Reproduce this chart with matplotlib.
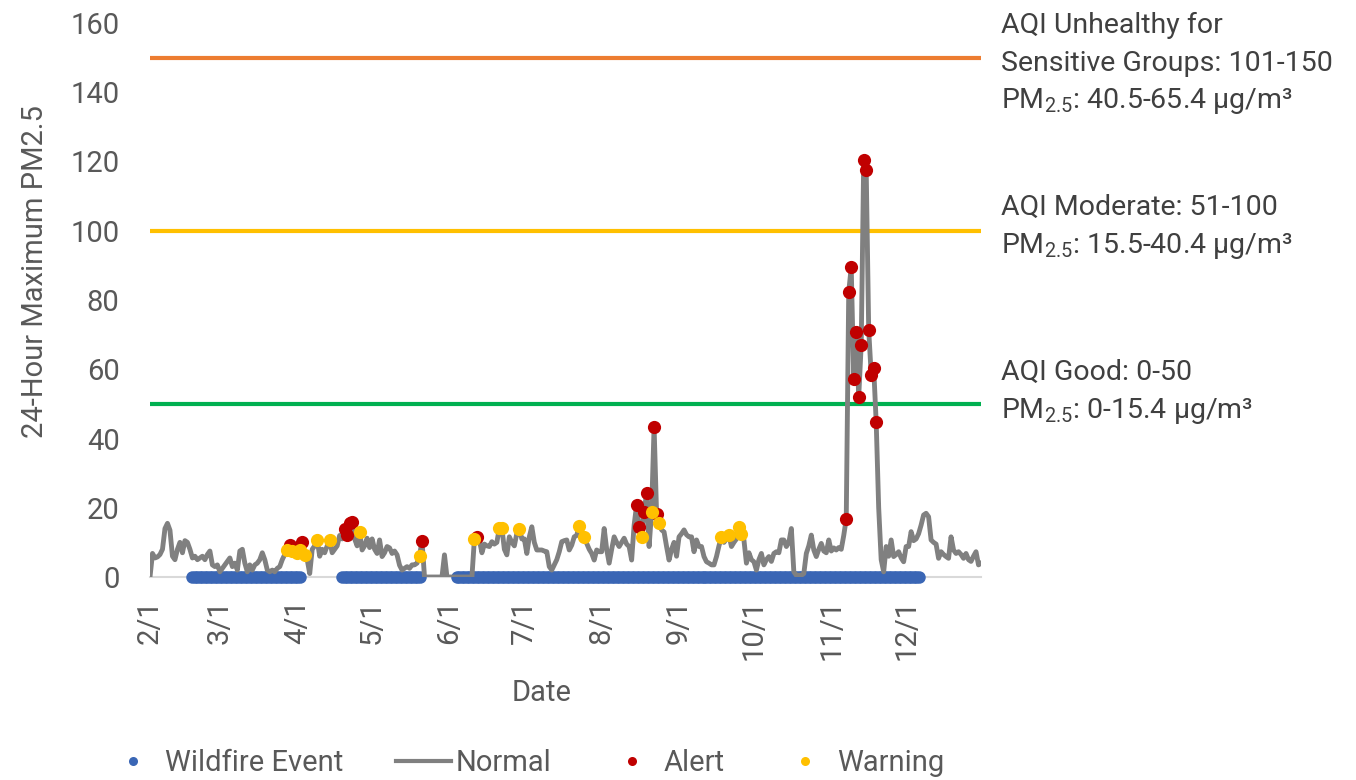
import numpy as np
import pandas as pd
import matplotlib as mpl
mpl.use("Agg")

import matplotlib.pyplot as plt
from matplotlib.lines import Line2D

mpl.rcParams.update({'font.family': ['Roboto', 'DejaVu Sans'],
                     'font.size': 21,
                     'text.color': '#595959',
                     'mathtext.fontset': 'custom',
                     'mathtext.rm': 'Roboto',
                     'mathtext.it': 'Roboto:italic',
                     'mathtext.bf': 'Roboto:bold'})

# daily 24-hour max PM2.5, one list per month (2/1 .. 12/31)
feb = [0, 6.8, 5.5, 5.8, 6.5, 8, 14, 15.5, 13.5, 6, 5, 8, 10, 7, 10.5, 10, 8, 5.5, 6, 5,
       5.5, 6, 5, 6.5, 7.5, 3.5, 3, 3.5]
mar = [1.5, 2.5, 3.5, 4.5, 5.5, 3, 4, 2, 7.5, 8, 4, 1.5, 3.5, 2, 3.5, 4, 5, 7, 5, 2,
       1.5, 2, 1.5, 2.5, 3, 5, 6.5, 7.8, 9.2, 7.5, 8]
apr = [6.9, 7.8, 10.2, 6.4, 5, 1, 8, 9, 10.7, 6, 8, 7, 9, 10.7, 7, 8, 9, 12, 11, 14,
       12, 15.5, 16, 11, 9, 13, 7.8, 9, 11.2, 8.5]
may = [11, 8, 6.8, 10.7, 5.9, 7, 8.8, 8.4, 6.8, 7.5, 6.4, 3.4, 2, 2.5, 3, 2.5, 3.5, 3.5, 4, 6.1,
       10.4, 0, 0, 0, 0, 0, 0, 0, 0, 6.4, 0]
jun = [0, 0, 0, 0, 0, 0, 0, 0, 0, 0, 11, 11.6, 10.7, 7, 9.5, 9, 8.8, 10.2, 9.5, 10,
       14.2, 14.2, 8, 6.4, 11.6, 10, 9, 12.6, 13.9, 11]
jul = [11, 6.8, 11.6, 14.5, 10, 7.8, 7.8, 7.8, 7.5, 7.3, 3, 2, 3.5, 5, 7.3, 10.2, 10.5, 10.7, 7.8, 9.2,
       11.6, 12, 14.8, 13.2, 11.6, 9.7, 8, 6.8, 4.9, 7.8, 7.3]
aug = [7.3, 14, 8, 4, 8, 11.6, 10, 8.8, 10, 11.2, 9.5, 8.8, 4.9, 15, 20.8, 14.5, 11.6, 18.9, 24.2, 8.8,
       18.9, 43.4, 18.2, 15.5, 13.6, 13, 8.8, 4.9, 8, 10, 6]
sep = [11.6, 12.5, 13.6, 12.2, 11.6, 11.6, 7.3, 10.7, 8.8, 8.8, 5.9, 4.4, 4, 3.5, 3.5, 5.9, 9, 11.6, 10, 11,
       12.1, 8.8, 10, 11, 14.4, 12.4, 10.7, 4, 7, 5]
oct_ = [4.4, 2, 5, 6.8, 3.5, 5, 5.9, 4.5, 6.8, 7.3, 7, 10.7, 10.7, 8.8, 10, 14, 1.5, 0.5, 0.5, 0.5,
        1, 6.8, 9, 12.1, 7.8, 5.9, 8, 9.7, 7.5, 7, 10.7]
nov = [7.5, 8.4, 7.8, 8.5, 8, 12, 16.8, 82.4, 89.4, 57.2, 70.7, 52.1, 67.1, 120.4, 117.5, 71.4, 58.4, 60.4, 44.7, 20,
       5, 1.5, 8.8, 6, 10.7, 5.9, 6.5, 7.3, 5.5, 4.4]
dec = [8.8, 8.8, 13.1, 10.5, 11, 12.5, 15, 17.9, 18.4, 17.4, 10.7, 10, 9.5, 5.4, 7.3, 6.5, 5.9, 5.4, 11.6, 7.8,
       6.8, 7.3, 6.5, 5.4, 6.8, 5, 4.5, 6, 7.3, 3.5, 4]

wildfire_periods = [('2021-02-18', '2021-04-02'),
                    ('2021-04-19', '2021-05-20'),
                    ('2021-06-04', '2021-12-06')]

alert_dates = ['2021-03-29', '2021-04-03', '2021-04-20', '2021-04-21', '2021-04-22', '2021-04-23',
               '2021-05-21', '2021-06-12', '2021-08-15', '2021-08-16', '2021-08-18', '2021-08-19',
               '2021-08-22', '2021-08-23', '2021-11-07', '2021-11-08', '2021-11-09', '2021-11-10',
               '2021-11-11', '2021-11-12', '2021-11-13', '2021-11-14', '2021-11-15', '2021-11-16',
               '2021-11-17', '2021-11-18', '2021-11-19']

warning_dates = ['2021-03-28', '2021-03-30', '2021-04-01', '2021-04-02', '2021-04-04', '2021-04-09',
                 '2021-04-14', '2021-04-26', '2021-05-20', '2021-06-11', '2021-06-21', '2021-06-22',
                 '2021-06-29', '2021-07-23', '2021-07-25', '2021-08-17', '2021-08-21', '2021-08-24',
                 '2021-09-18', '2021-09-21', '2021-09-25', '2021-09-26']

month_ticks = ['2/1', '3/1', '4/1', '5/1', '6/1', '7/1', '8/1', '9/1', '10/1', '11/1', '12/1']

aqi_levels = [150, 100, 50]
aqi_colors = ['#ED7D31', '#FFC000', '#00B050']
aqi_text = [['AQI Unhealthy for', 'Sensitive Groups: 101-150', r'PM$_{2.5}$: 40.5-65.4 µg/m³'],
            ['AQI Moderate: 51-100', r'PM$_{2.5}$: 15.5-40.4 µg/m³'],
            ['AQI Good: 0-50', r'PM$_{2.5}$: 0-15.4 µg/m³']]

pm25 = feb + mar + apr + may + jun + jul + aug + sep + oct_ + nov + dec
dates = pd.date_range('2021-02-01', periods=len(pm25), freq='D')
series = pd.Series(pm25, index=dates)

W, H = 1356, 780
fig = plt.figure(figsize=(W / 100, H / 100), dpi=100)
ax = fig.add_axes([150 / W, 1 - 577 / H, 831 / W, 554 / H])

for lvl, col in zip(aqi_levels, aqi_colors):
    ax.axhline(lvl, color=col, lw=3, zorder=1)

for start, end in wildfire_periods:
    rng = pd.date_range(start, end, freq='D')
    ax.plot(rng, np.zeros(len(rng)), 'o', color='#3A66B5', ms=9, mec='none', zorder=2, clip_on=False)

ax.plot(series.index, series.values, color='#808080', lw=3.5, zorder=3, solid_joinstyle='round')

ad = pd.to_datetime(alert_dates)
ax.plot(ad, series[ad].values, 'o', color='#C00000', ms=9.5, mec='none', zorder=4, clip_on=False)
wd = pd.to_datetime(warning_dates)
ax.plot(wd, series[wd].values, 'o', color='#FFC000', ms=9.5, mec='none', zorder=5, clip_on=False)

ax.set_xlim(dates[0], dates[-1])
ax.set_ylim(0, 160)
ax.set_yticks(range(0, 161, 20))
tick_dates = [pd.Timestamp(2021, int(t.split('/')[0]), 1) for t in month_ticks]
ax.set_xticks(tick_dates)
ax.set_xticklabels(month_ticks)
ax.tick_params(axis='x', length=0, pad=16, labelrotation=90, colors='#595959')
ax.tick_params(axis='y', length=0, pad=22, colors='#595959')
for s in ['top', 'right', 'left']:
    ax.spines[s].set_visible(False)
ax.spines['bottom'].set_color('#D9D9D9')
ax.spines['bottom'].set_linewidth(1.5)
ax.spines['bottom'].set_zorder(0)

fig.text(35 / W, 1 - 272 / H, '24-Hour Maximum PM2.5', rotation=90, ha='center', va='center')
fig.text(542 / W, 1 - 693 / H, 'Date', ha='center', va='center')

baselines = [[33, 71, 108], [215, 253], [380, 418]]
for block, ys in zip(aqi_text, baselines):
    for line, yb in zip(block, ys):
        fig.text(1001 / W, 1 - yb / H, line, ha='left', va='baseline', fontsize=20.5, color='#404040')

handles = [Line2D([], [], marker='o', ls='none', color='#3A66B5', mec='none', ms=6.5),
           Line2D([], [], color='#808080', lw=3),
           Line2D([], [], marker='o', ls='none', color='#C00000', mec='none', ms=6.5),
           Line2D([], [], marker='o', ls='none', color='#FFC000', mec='none', ms=6.5)]
fig.legend(handles, ['Wildfire Event', 'Normal', 'Alert', 'Warning'], ncol=4, frameon=False,
           loc='center', bbox_to_anchor=(525 / W, 1 - 763 / H), handlelength=1.88,
           handletextpad=0.17, columnspacing=1.8, fontsize=21, borderpad=0, borderaxespad=0)

plt.savefig('out.png')
